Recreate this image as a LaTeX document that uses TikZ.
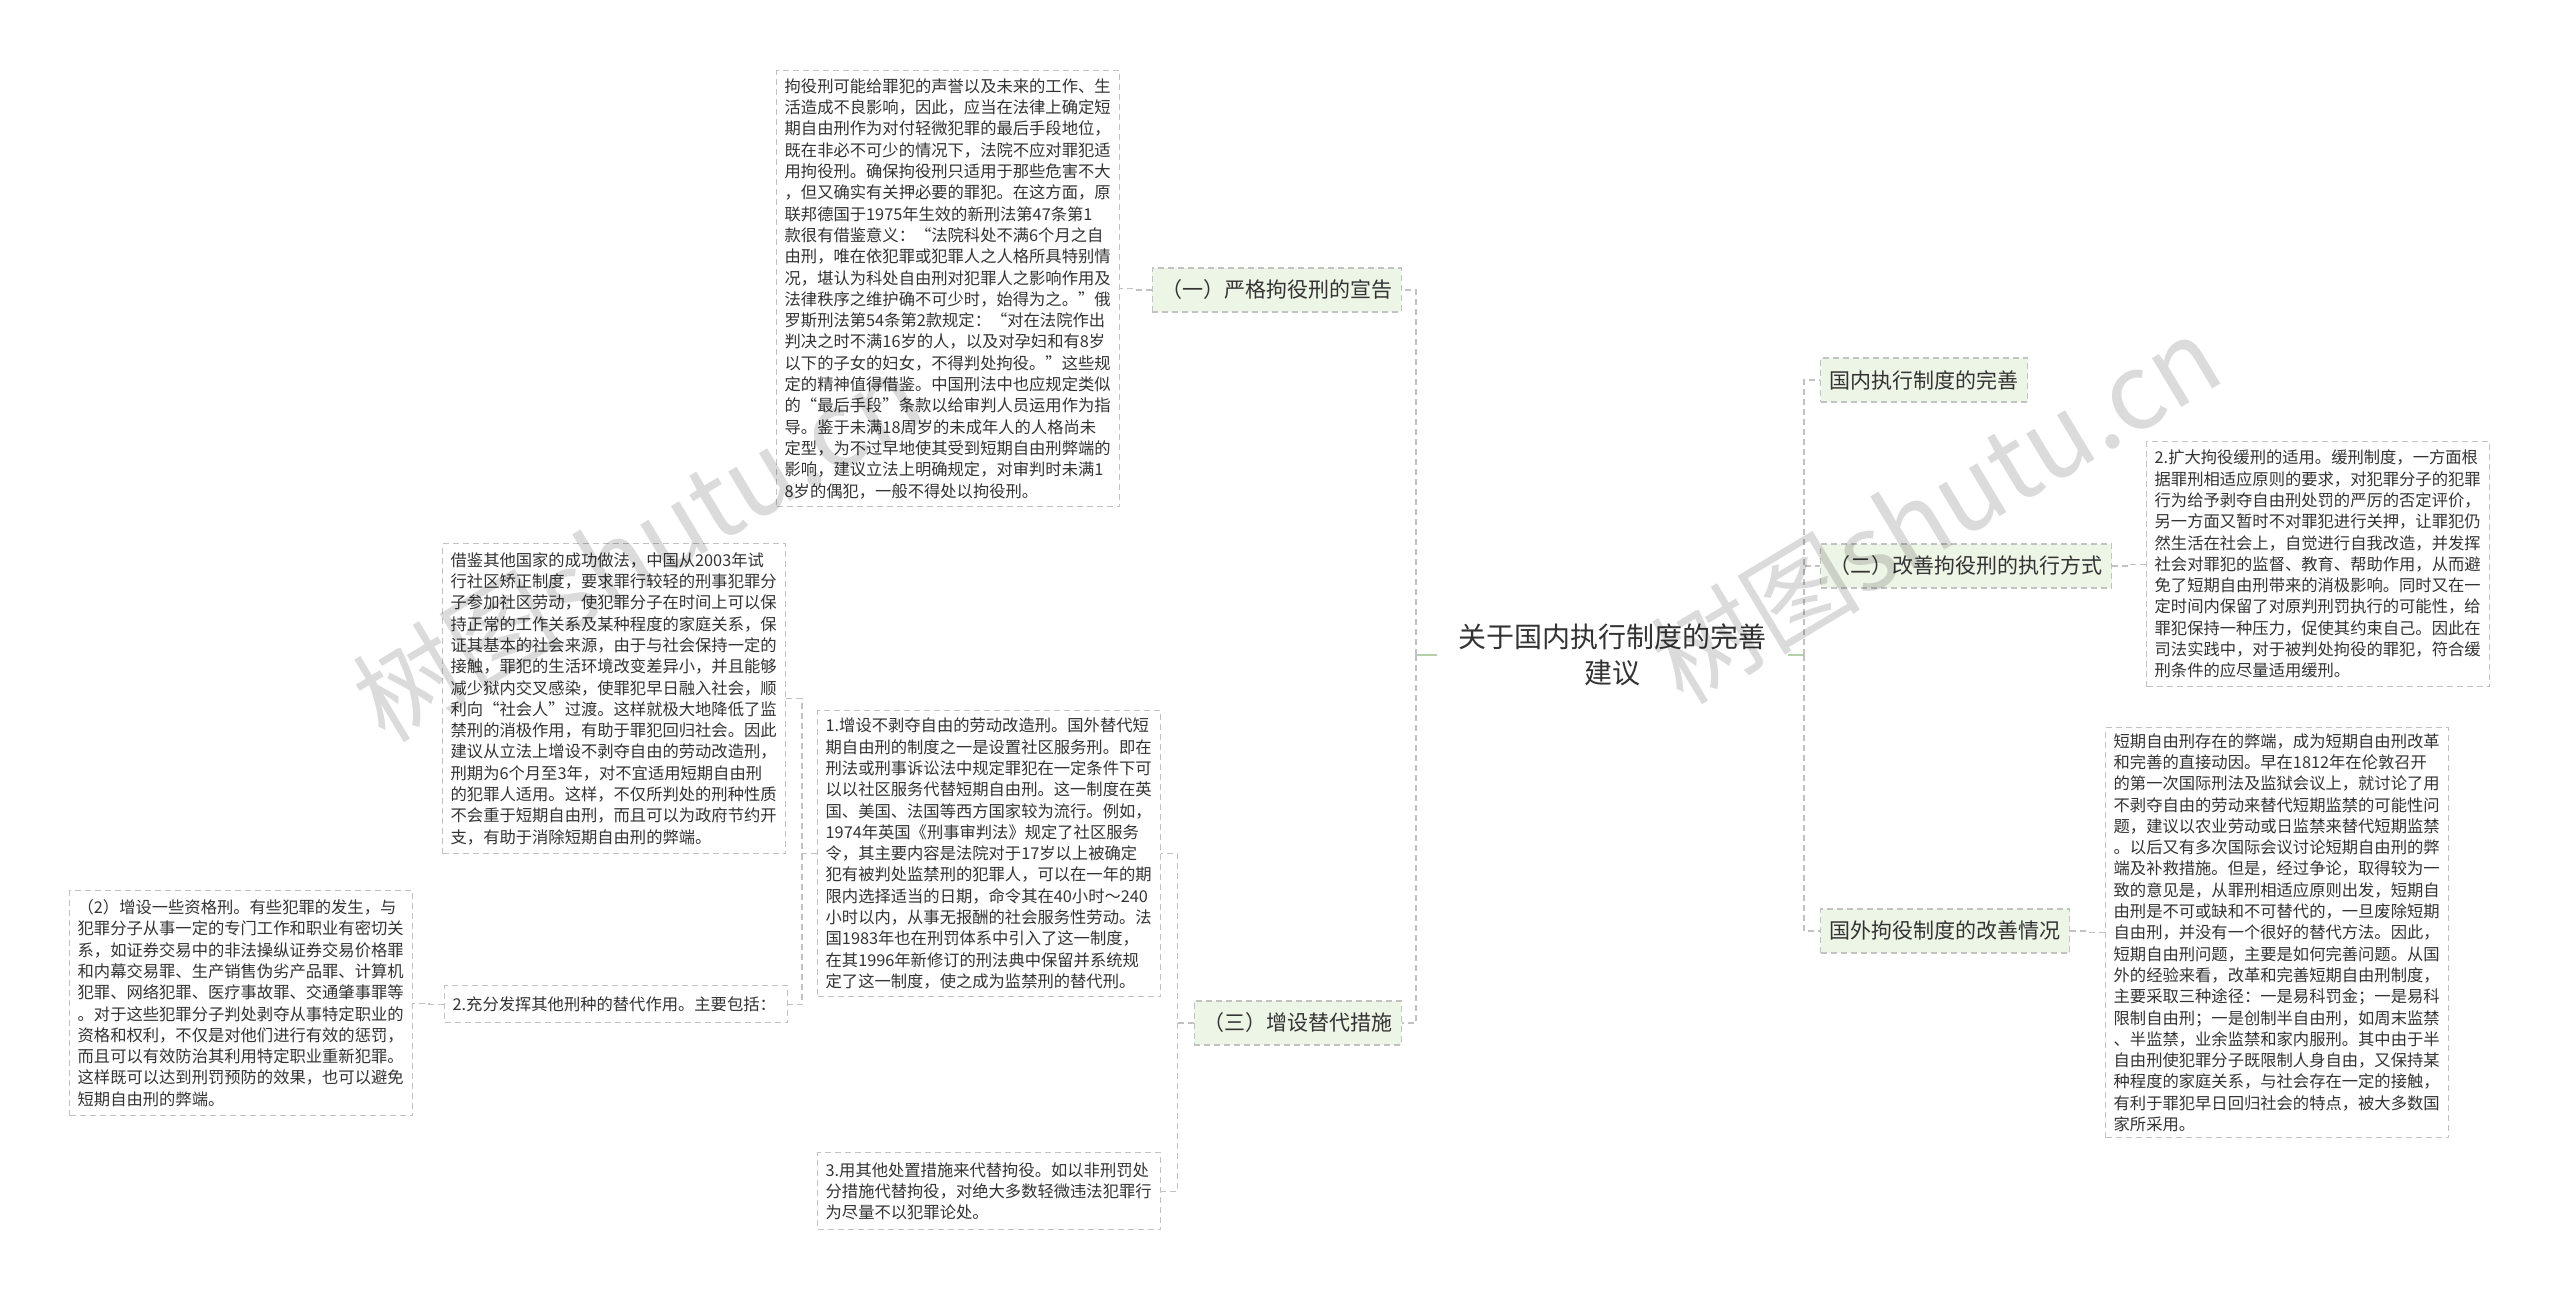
\documentclass[tikz,border=0pt]{standalone}
\usepackage{fontspec}
\setmainfont{Noto Sans CJK SC}
\usetikzlibrary{backgrounds}
\definecolor{rootfill}{HTML}{C3DCB9}
\definecolor{lblfill}{HTML}{EDF5E6}
\definecolor{dashgray}{HTML}{C2C2C2}
\definecolor{txt}{HTML}{333333}
\definecolor{stubgreen}{HTML}{B5CFAA}
\begin{document}
\begin{tikzpicture}[x=1pt,y=-1pt,
  tbox/.style={draw=dashgray, dash pattern=on 6pt off 4pt, line width=1.3pt, fill=white, text=txt,
    anchor=north west, align=left, text width=327pt, inner xsep=8pt, inner ysep=0pt,
    font=\fontsize{16.3}{21.3}\selectfont},
  lbl/.style={draw=dashgray, dash pattern=on 6pt off 4pt, line width=1.3pt, fill=lblfill, text=txt,
    inner xsep=9pt, inner ysep=0pt, minimum height=44pt, font=\fontsize{21}{25}\selectfont},
  conn/.style={draw=dashgray, dash pattern=on 6pt off 4pt, line width=1.3pt},
  stub/.style={draw=stubgreen, line width=1.8pt},
  wm/.style={rotate=31, opacity=0.14, text=black, font=\fontsize{105}{110}\selectfont}
]
\fill[white] (0,0) rectangle (2560,1303);
\useasboundingbox (0,0) rectangle (2560,1303);

% root
\node[font=\fontsize{28}{36}\selectfont, text=txt, align=center, minimum width=351pt,
  minimum height=104pt, inner sep=0pt] (root) at (1612.5,655) {关于国内执行制度的完善\\建议};
\begin{scope}[on background layer]
\fill[rootfill] (root.west) -- ([xshift=12pt]root.north west) -- ([xshift=-12pt]root.north east)
  -- (root.east) -- ([xshift=-12pt]root.south east) -- ([xshift=12pt]root.south west) -- cycle;
\end{scope}

% labels
\node[lbl, anchor=east] (L1) at (1402,290) {（一）严格拘役刑的宣告};
\node[lbl, anchor=east] (L3) at (1402,1023) {（三）增设替代措施};
\node[lbl, anchor=west] (R1) at (1820,380) {国内执行制度的完善};
\node[lbl, anchor=west] (R2) at (1820,566) {（二）改善拘役刑的执行方式};
\node[lbl, anchor=west] (R3) at (1820,931) {国外拘役制度的改善情况};

% text boxes
\node[tbox, minimum height=436pt] (TB) at (776,70) {拘役刑可能给罪犯的声誉以及未来的工作、生\\
活造成不良影响，因此，应当在法律上确定短\\
期自由刑作为对付轻微犯罪的最后手段地位，\\
既在非必不可少的情况下，法院不应对罪犯适\\
用拘役刑。确保拘役刑只适用于那些危害不大\\
，但又确实有关押必要的罪犯。在这方面，原\\
联邦德国于1975年生效的新刑法第47条第1\\
款很有借鉴意义：“法院科处不满6个月之自\\
由刑，唯在依犯罪或犯罪人之人格所具特别情\\
况，堪认为科处自由刑对犯罪人之影响作用及\\
法律秩序之维护确不可少时，始得为之。”俄\\
罗斯刑法第54条第2款规定：“对在法院作出\\
判决之时不满16岁的人，以及对孕妇和有8岁\\
以下的子女的妇女，不得判处拘役。”这些规\\
定的精神值得借鉴。中国刑法中也应规定类似\\
的“最后手段”条款以给审判人员运用作为指\\
导。鉴于未满18周岁的未成年人的人格尚未\\
定型，为不过早地使其受到短期自由刑弊端的\\
影响，建议立法上明确规定，对审判时未满1\\
8岁的偶犯，一般不得处以拘役刑。};

\node[tbox, minimum height=310pt] (JJ) at (442,543) {借鉴其他国家的成功做法，中国从2003年试\\
行社区矫正制度，要求罪行较轻的刑事犯罪分\\
子参加社区劳动，使犯罪分子在时间上可以保\\
持正常的工作关系及某种程度的家庭关系，保\\
证其基本的社会来源，由于与社会保持一定的\\
接触，罪犯的生活环境改变差异小，并且能够\\
减少狱内交叉感染，使罪犯早日融入社会，顺\\
利向“社会人”过渡。这样就极大地降低了监\\
禁刑的消极作用，有助于罪犯回归社会。因此\\
建议从立法上增设不剥夺自由的劳动改造刑，\\
刑期为6个月至3年，对不宜适用短期自由刑\\
的犯罪人适用。这样，不仅所判处的刑种性质\\
不会重于短期自由刑，而且可以为政府节约开\\
支，有助于消除短期自由刑的弊端。};

\node[tbox, minimum height=286pt] (B1) at (817,710) {1.增设不剥夺自由的劳动改造刑。国外替代短\\
期自由刑的制度之一是设置社区服务刑。即在\\
刑法或刑事诉讼法中规定罪犯在一定条件下可\\
以以社区服务代替短期自由刑。这一制度在英\\
国、美国、法国等西方国家较为流行。例如，\\
1974年英国《刑事审判法》规定了社区服务\\
令，其主要内容是法院对于17岁以上被确定\\
犯有被判处监禁刑的犯罪人，可以在一年的期\\
限内选择适当的日期，命令其在40小时～240\\
小时以内，从事无报酬的社会服务性劳动。法\\
国1983年也在刑罚体系中引入了这一制度，\\
在其1996年新修订的刑法典中保留并系统规\\
定了这一制度，使之成为监禁刑的替代刑。};

\node[tbox, minimum height=37pt] (N2) at (444,985) {2.充分发挥其他刑种的替代作用。主要包括：};

\node[tbox, minimum height=225pt] (Q2) at (69,890) {（2）增设一些资格刑。有些犯罪的发生，与\\
犯罪分子从事一定的专门工作和职业有密切关\\
系，如证券交易中的非法操纵证券交易价格罪\\
和内幕交易罪、生产销售伪劣产品罪、计算机\\
犯罪、网络犯罪、医疗事故罪、交通肇事罪等\\
。对于这些犯罪分子判处剥夺从事特定职业的\\
资格和权利，不仅是对他们进行有效的惩罚，\\
而且可以有效防治其利用特定职业重新犯罪。\\
这样既可以达到刑罚预防的效果，也可以避免\\
短期自由刑的弊端。};

\node[tbox, minimum height=77pt] (B3) at (817,1152) {3.用其他处置措施来代替拘役。如以非刑罚处\\
分措施代替拘役，对绝大多数轻微违法犯罪行\\
为尽量不以犯罪论处。};

\node[tbox, minimum height=245pt] (KD) at (2146,441) {2.扩大拘役缓刑的适用。缓刑制度，一方面根\\
据罪刑相适应原则的要求，对犯罪分子的犯罪\\
行为给予剥夺自由刑处罚的严厉的否定评价，\\
另一方面又暂时不对罪犯进行关押，让罪犯仍\\
然生活在社会上，自觉进行自我改造，并发挥\\
社会对罪犯的监督、教育、帮助作用，从而避\\
免了短期自由刑带来的消极影响。同时又在一\\
定时间内保留了对原判刑罚执行的可能性，给\\
罪犯保持一种压力，促使其约束自己。因此在\\
司法实践中，对于被判处拘役的罪犯，符合缓\\
刑条件的应尽量适用缓刑。};

\node[tbox, minimum height=410pt] (DQ) at (2105,727) {短期自由刑存在的弊端，成为短期自由刑改革\\
和完善的直接动因。早在1812年在伦敦召开\\
的第一次国际刑法及监狱会议上，就讨论了用\\
不剥夺自由的劳动来替代短期监禁的可能性问\\
题，建议以农业劳动或日监禁来替代短期监禁\\
。以后又有多次国际会议讨论短期自由刑的弊\\
端及补救措施。但是，经过争论，取得较为一\\
致的意见是，从罪刑相适应原则出发，短期自\\
由刑是不可或缺和不可替代的，一旦废除短期\\
自由刑，并没有一个很好的替代方法。因此，\\
短期自由刑问题，主要是如何完善问题。从国\\
外的经验来看，改革和完善短期自由刑制度，\\
主要采取三种途径：一是易科罚金；一是易科\\
限制自由刑；一是创制半自由刑，如周末监禁\\
、半监禁，业余监禁和家内服刑。其中由于半\\
自由刑使犯罪分子既限制人身自由，又保持某\\
种程度的家庭关系，与社会存在一定的接触，\\
有利于罪犯早日回归社会的特点，被大多数国\\
家所采用。};

% connectors
\coordinate (lt) at (1416,655);
\coordinate (rt) at (1804,655);
\draw[stub] (root.west) -- (lt);
\draw[stub] (root.east) -- (rt);
\draw[conn] (lt) |- (L1.east);
\draw[conn] (lt) |- (L3.east);
\draw[conn] (rt) |- (R1.west);
\draw[conn] (rt) |- (R2.west);
\draw[conn] (rt) |- (R3.west);
\draw[conn] (L1.west) -- ++(-16,0) |- (TB.east);
\draw[conn] (L3.west) -- ++(-16,0) coordinate (t3) |- (B1.east);
\draw[conn] (t3) |- (B3.east);
\draw[conn] (B1.west) -- ++(-15,0) coordinate (t1) |- (JJ.east);
\draw[conn] (t1) |- (N2.east);
\draw[conn] (N2.west) -- ++(-15,0) |- (Q2.east);
\draw[conn] (R2.east) -- ++(17,0) |- (KD.west);
\draw[conn] (R3.east) -- ++(17,0) |- (DQ.west);

% watermarks
\node[wm] (wmL) at (637,547) {树图shutu.cn};
\node[wm] (wmR) at (1935,509) {树图shutu.cn};
\end{tikzpicture}
\end{document}
